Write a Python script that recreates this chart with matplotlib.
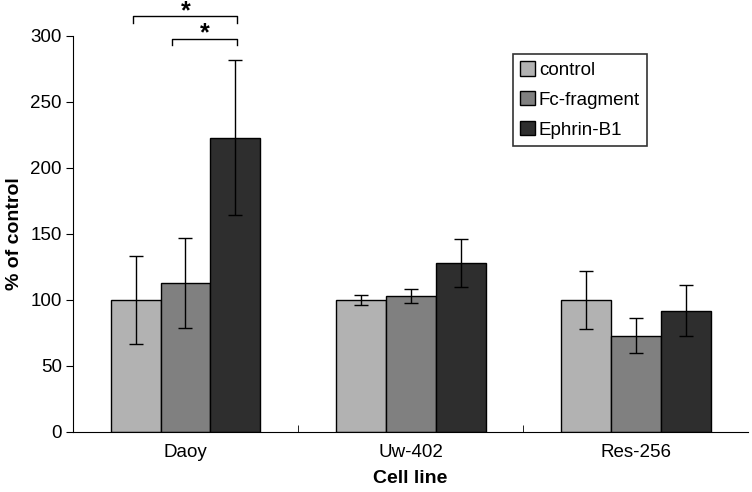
import numpy as np
import matplotlib
matplotlib.use("Agg")
import matplotlib.pyplot as plt

cell_lines = ["Daoy", "Uw-402", "Res-256"]
series = ["control", "Fc-fragment", "Ephrin-B1"]
control = [100, 100, 100]
fc_fragment = [113, 103, 73]
ephrin_b1 = [223, 128, 92]
control_err = [33, 4, 22]
fc_err = [34, 5, 13]
ephrin_err = [59, 18, 19]
colors = ["#b2b2b2", "#808080", "#2e2e2e"]

plt.rcParams["font.family"] = ["Liberation Sans", "DejaVu Sans"]

fig = plt.figure(figsize=(7.52, 4.92), dpi=100)
ax = fig.add_axes([0.097, 0.122, 0.898, 0.805])

x = np.arange(len(cell_lines))
w = 0.222
vals = [control, fc_fragment, ephrin_b1]
errs = [control_err, fc_err, ephrin_err]
for i, (v, e, c, lab) in enumerate(zip(vals, errs, colors, series)):
    ax.bar(x + (i - 1) * w, v, w, color=c, edgecolor="black", linewidth=1.0,
           label=lab, yerr=e, capsize=5,
           error_kw=dict(elinewidth=1.0, capthick=1.0, ecolor="black"))

ax.set_xlim(-0.5, 2.5)
ax.set_ylim(0, 300)
ax.set_yticks(range(0, 301, 50))
ax.set_xticks(x)
ax.set_xticklabels(cell_lines)
ax.set_xticks([0.5, 1.5], minor=True)
ax.tick_params(axis="x", which="major", length=0, labelsize=13.5, pad=9)
ax.tick_params(axis="x", which="minor", length=5, direction="in")
ax.tick_params(axis="y", labelsize=13.5, length=5, direction="out", pad=3)
for s in ("top", "right"):
    ax.spines[s].set_visible(False)
ax.set_xlabel("Cell line", fontsize=14, fontweight="bold", labelpad=6)
ax.set_ylabel("% of control", fontsize=14, fontweight="bold", labelpad=5)

# significance brackets
ax.plot([-0.231, -0.231, 0.227, 0.227], [310, 315, 315, 310], color="black",
        lw=1.0, clip_on=False)
ax.text(0.0, 313.5, "*", ha="center", va="baseline", fontsize=18,
        fontweight="bold", clip_on=False)
ax.plot([-0.058, -0.058, 0.227, 0.227], [293, 298, 298, 293], color="black",
        lw=1.0, clip_on=False)
ax.text(0.085, 297, "*", ha="center", va="baseline", fontsize=18,
        fontweight="bold", clip_on=False)

leg = ax.legend(loc="upper left", bbox_to_anchor=(0.651, 0.955), fontsize=13.5,
                frameon=True, fancybox=False, handlelength=0.8,
                handleheight=0.8, handletextpad=0.2, borderpad=0.4,
                labelspacing=0.65, borderaxespad=0)
leg.get_frame().set_edgecolor("black")
leg.get_frame().set_linewidth(1.2)

fig.savefig("out.png", dpi=100)
